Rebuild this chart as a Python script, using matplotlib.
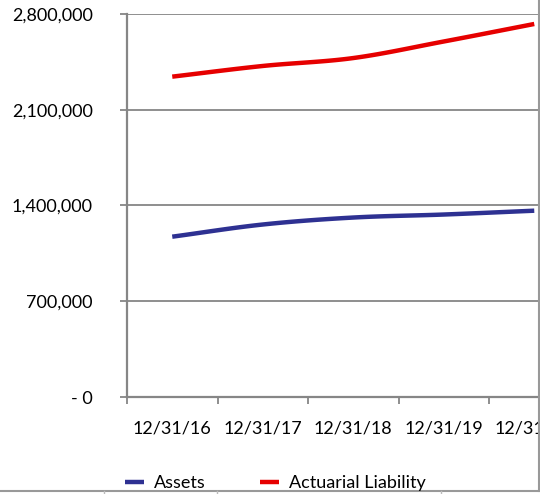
import numpy as np
import matplotlib
matplotlib.use('Agg')
from matplotlib import pyplot as plt
from matplotlib.lines import Line2D
from matplotlib.ticker import FuncFormatter

plt.rcParams['font.family'] = ['Lato', 'DejaVu Sans']

# data
dates = ['12/31/16', '12/31/17', '12/31/18', '12/31/19', '12/31/20']
assets = [1172000, 1261000, 1312000, 1334000, 1362000]
liability = [2342000, 2420000, 2478000, 2599000, 2727000]
y_ticks = [0, 700000, 1400000, 2100000, 2800000]

GRAY = '#868686'


def smooth(x, y, n=30):
    # catmull-rom style curve through the points (like excel "smoothed line")
    x = np.asarray(x, float)
    y = np.asarray(y, float)
    px = np.concatenate([[2 * x[0] - x[1]], x, [2 * x[-1] - x[-2]]])
    py = np.concatenate([[2 * y[0] - y[1]], y, [2 * y[-1] - y[-2]]])
    xs, ys = [], []
    for i in range(1, len(px) - 2):
        t = np.linspace(0, 1, n, endpoint=(i == len(px) - 3))
        for p, out in ((px, xs), (py, ys)):
            p0, p1, p2, p3 = p[i - 1], p[i], p[i + 1], p[i + 2]
            out.append(0.5 * (2 * p1 + (-p0 + p2) * t
                              + (2 * p0 - 5 * p1 + 4 * p2 - p3) * t ** 2
                              + (-p0 + 3 * p1 - 3 * p2 + p3) * t ** 3))
    return np.concatenate(xs), np.concatenate(ys)


fig = plt.figure(figsize=(5.4, 4.94), dpi=100)
W, H = 540.0, 494.0
# plot area runs past the right edge of the picture (cropped screenshot)
ax = fig.add_axes([127 / W, (H - 397) / H, (579.5 - 127) / W, 383 / H])

x = np.arange(len(dates))
sx, sy = smooth(x, assets)
ax.plot(sx, sy, color='#2E3192', lw=3.2, solid_capstyle='butt', label='Assets')
sx, sy = smooth(x, liability)
ax.plot(sx, sy, color='#E60000', lw=3.2, solid_capstyle='butt', label='Actuarial Liability')

ax.set_xlim(-0.5, len(dates) - 0.5)
ax.set_ylim(0, 2800000)

ax.set_yticks(y_ticks)
ax.yaxis.set_major_formatter(FuncFormatter(lambda v, p: '- 0' if v == 0 else '{:,.0f}'.format(v)))
ax.grid(axis='y', color=GRAY, lw=1.3)
ax.set_axisbelow(True)

ax.set_xticks(x)
ax.set_xticklabels(dates)
ax.set_xticks(np.arange(len(dates) + 1) - 0.5, minor=True)
ax.tick_params(axis='x', which='major', length=0, pad=17, labelsize=13)
ax.tick_params(axis='x', which='minor', length=5, width=1.3, color=GRAY, direction='out')
ax.tick_params(axis='y', length=5, width=1.3, color=GRAY, labelsize=13, pad=19.5)

for s in ['top', 'right']:
    ax.spines[s].set_visible(False)
for s in ['left', 'bottom']:
    ax.spines[s].set_color(GRAY)
    ax.spines[s].set_linewidth(1.6)

fig.legend(loc='center left', bbox_to_anchor=(125 / W, (H - 483) / H), ncol=2,
           frameon=False, fontsize=13, handlelength=1.05, handletextpad=0.55,
           columnspacing=3.0, borderaxespad=0, borderpad=0)

# surrounding table borders from the screenshot
fig.add_artist(Line2D([0, 1], [1 - 490.5 / H] * 2, color='#999999', lw=1.5, transform=fig.transFigure))
fig.add_artist(Line2D([538.5 / W] * 2, [1 - 490.5 / H, 1], color='#999999', lw=1.5, transform=fig.transFigure))
for xb in [104, 217, 441]:
    fig.add_artist(Line2D([xb / W] * 2, [0, 1 - 490.5 / H], color='#bbbbbb', lw=1, transform=fig.transFigure))

fig.savefig('out.png', dpi=100)
